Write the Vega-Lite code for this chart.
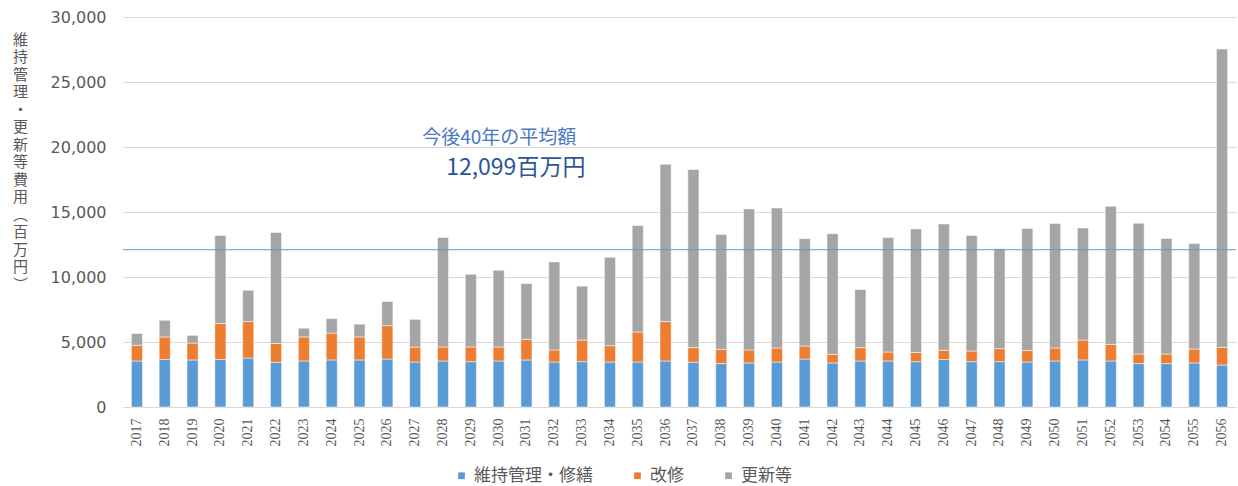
{
  "$schema": "https://vega.github.io/schema/vega-lite/v6.json",
  "autosize": {"type": "none"},
  "width": 1113,
  "height": 390,
  "padding": {"left": 123, "top": 17, "right": 2, "bottom": 79},
  "background": "white",
  "config": {
    "view": {"stroke": null},
    "axis": {"labelColor": "#595959", "titleColor": "#595959"},
    "legend": {"labelColor": "#595959"}
  },
  "layer": [
    {
      "data": {
        "values": [
          {"year": "2017", "維持管理・修繕": 3540, "改修": 1210, "更新等": 900},
          {"year": "2018", "維持管理・修繕": 3650, "改修": 1740, "更新等": 1280},
          {"year": "2019", "維持管理・修繕": 3620, "改修": 1300, "更新等": 590},
          {"year": "2020", "維持管理・修繕": 3650, "改修": 2770, "更新等": 6770},
          {"year": "2021", "維持管理・修繕": 3770, "改修": 2800, "更新等": 2410},
          {"year": "2022", "維持管理・修繕": 3440, "改修": 1440, "更新等": 8540},
          {"year": "2023", "維持管理・修繕": 3540, "改修": 1850, "更新等": 670},
          {"year": "2024", "維持管理・修繕": 3620, "改修": 2070, "更新等": 1110},
          {"year": "2025", "維持管理・修繕": 3620, "改修": 1770, "更新等": 980},
          {"year": "2026", "維持管理・修繕": 3690, "改修": 2570, "更新等": 1850},
          {"year": "2027", "維持管理・修繕": 3460, "改修": 1150, "更新等": 2130},
          {"year": "2028", "維持管理・修繕": 3540, "改修": 1080, "更新等": 8420},
          {"year": "2029", "維持管理・修繕": 3490, "改修": 1130, "更新等": 5590},
          {"year": "2030", "維持管理・修繕": 3540, "改修": 1080, "更新等": 5900},
          {"year": "2031", "維持管理・修繕": 3620, "改修": 1590, "更新等": 4280},
          {"year": "2032", "維持管理・修繕": 3460, "改修": 930, "更新等": 6770},
          {"year": "2033", "維持管理・修繕": 3490, "改修": 1660, "更新等": 4150},
          {"year": "2034", "維持管理・修繕": 3460, "改修": 1260, "更新等": 6790},
          {"year": "2035", "維持管理・修繕": 3460, "改修": 2310, "更新等": 8190},
          {"year": "2036", "維持管理・修繕": 3540, "改修": 3030, "更新等": 12100},
          {"year": "2037", "維持管理・修繕": 3440, "改修": 1130, "更新等": 13690},
          {"year": "2038", "維持管理・修繕": 3340, "改修": 1100, "更新等": 8820},
          {"year": "2039", "維持管理・修繕": 3390, "改修": 1000, "更新等": 10850},
          {"year": "2040", "維持管理・修繕": 3460, "改修": 1080, "更新等": 10770},
          {"year": "2041", "維持管理・修繕": 3690, "改修": 1000, "更新等": 8260},
          {"year": "2042", "維持管理・修繕": 3390, "改修": 660, "更新等": 9280},
          {"year": "2043", "維持管理・修繕": 3540, "改修": 1030, "更新等": 4460},
          {"year": "2044", "維持管理・修繕": 3540, "改修": 690, "更新等": 8800},
          {"year": "2045", "維持管理・修繕": 3490, "改修": 700, "更新等": 9510},
          {"year": "2046", "維持管理・修繕": 3650, "改修": 710, "更新等": 9720},
          {"year": "2047", "維持管理・修繕": 3490, "改修": 820, "更新等": 8880},
          {"year": "2048", "維持管理・修繕": 3490, "改修": 1000, "更新等": 7690},
          {"year": "2049", "維持管理・修繕": 3460, "改修": 880, "更新等": 9390},
          {"year": "2050", "維持管理・修繕": 3540, "改修": 1000, "更新等": 9570},
          {"year": "2051", "維持管理・修繕": 3620, "改修": 1530, "更新等": 8620},
          {"year": "2052", "維持管理・修繕": 3540, "改修": 1280, "更新等": 10620},
          {"year": "2053", "維持管理・修繕": 3340, "改修": 740, "更新等": 10050},
          {"year": "2054", "維持管理・修繕": 3340, "改修": 740, "更新等": 8880},
          {"year": "2055", "維持管理・修繕": 3390, "改修": 1070, "更新等": 8110},
          {"year": "2056", "維持管理・修繕": 3230, "改修": 1360, "更新等": 22950}
        ]
      },
      "transform": [
        {"fold": ["維持管理・修繕", "改修", "更新等"], "as": ["series", "cost"]},
        {"window": [{"op": "row_number", "as": "stackIndex"}], "groupby": ["year"]}
      ],
      "mark": {"type": "bar", "stroke": "white", "strokeWidth": 0.5},
      "encoding": {
        "x": {
          "field": "year",
          "type": "nominal",
          "scale": {"paddingInner": 0.6, "paddingOuter": 0.3},
          "axis": {
            "title": null,
            "labelAngle": -90,
            "labelAlign": "right",
            "labelBaseline": "middle",
            "labelPadding": 11,
            "labelFont": "Liberation Sans Narrow",
            "labelFontSize": 14,
            "ticks": false,
            "domainColor": "#D9D9D9",
            "domainWidth": 1,
            "grid": false
          }
        },
        "y": {
          "field": "cost",
          "type": "quantitative",
          "stack": "zero",
          "scale": {"domain": [0, 30000], "nice": false},
          "axis": {
            "values": [0, 5000, 10000, 15000, 20000, 25000, 30000],
            "format": ",d",
            "labelFont": "DejaVu Sans",
            "labelFontSize": 16,
            "labelPadding": 17,
            "ticks": false,
            "domain": false,
            "gridColor": "#D9D9D9",
            "gridWidth": 1,
            "title": ["維", "持", "管", "理", "・", "更", "新", "等", "費", "用", "︵", "百", "万", "円", "︶"],
            "titleAngle": 0,
            "titleX": -103,
            "titleY": 15,
            "titleAlign": "center",
            "titleBaseline": "top",
            "titleFont": "Noto Sans CJK JP",
            "titleFontSize": 15,
            "titleFontWeight": "normal",
            "titleLineHeight": 17.5
          }
        },
        "color": {
          "field": "series",
          "type": "nominal",
          "sort": ["維持管理・修繕", "改修", "更新等"],
          "scale": {
            "domain": ["維持管理・修繕", "改修", "更新等"],
            "range": ["#5B9BD5", "#ED7D31", "#A5A5A5"]
          },
          "legend": {
            "title": null,
            "orient": "none",
            "direction": "horizontal",
            "legendX": 330,
            "legendY": 450,
            "symbolType": "square",
            "symbolSize": 45,
            "symbolStrokeWidth": 0,
            "labelFont": "Noto Sans CJK JP",
            "labelFontSize": 17,
            "labelOffset": 4,
            "columnPadding": 36,
            "padding": 0
          }
        },
        "order": {"field": "stackIndex", "type": "quantitative", "sort": "ascending"}
      }
    },
    {
      "data": {"values": [{"avg": 12099}]},
      "mark": {"type": "rule", "color": "#5B9BD5", "strokeWidth": 1},
      "encoding": {"y": {"field": "avg", "type": "quantitative"}}
    },
    {
      "data": {"values": [{"year": "2027", "value": 20670, "label": "今後40年の平均額"}]},
      "mark": {"type": "text", "align": "left", "baseline": "middle", "dx": 7, "font": "Noto Sans CJK JP", "fontSize": 19, "color": "#4A76C4"},
      "encoding": {
        "x": {"field": "year", "type": "nominal"},
        "y": {"field": "value", "type": "quantitative"},
        "text": {"field": "label"}
      }
    },
    {
      "data": {"values": [{"year": "2027", "value": 18360, "label": "12,099百万円"}]},
      "mark": {"type": "text", "align": "left", "baseline": "middle", "dx": 31, "font": "Noto Sans CJK JP", "fontSize": 23, "color": "#2F5597"},
      "encoding": {
        "x": {"field": "year", "type": "nominal"},
        "y": {"field": "value", "type": "quantitative"},
        "text": {"field": "label"}
      }
    }
  ]
}
